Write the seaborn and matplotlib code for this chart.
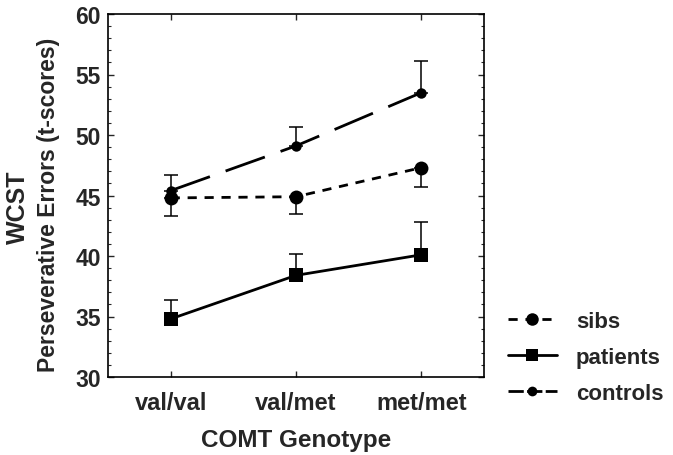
import matplotlib
matplotlib.use("Agg")
import matplotlib.pyplot as plt
from matplotlib.ticker import MultipleLocator
import seaborn as sns
import pandas as pd
import numpy as np

sns.set_theme(style="ticks")
plt.rcParams['font.family'] = ['Liberation Sans', 'DejaVu Sans']

genotypes = ["val/val", "val/met", "met/met"]
groups = ["sibs", "patients", "controls"]
sibs = [44.8, 44.9, 47.3]
sibs_err = [1.5, 1.4, 1.6]        # drawn downward
patients = [34.8, 38.4, 40.1]
patients_err = [1.6, 1.8, 2.7]    # drawn upward
controls = [45.4, 49.1, 53.5]
controls_err = [1.3, 1.6, 2.6]    # drawn upward

values = {"sibs": sibs, "patients": patients, "controls": controls}
errs = {"sibs": sibs_err, "patients": patients_err, "controls": controls_err}
err_dir = {"sibs": "down", "patients": "up", "controls": "up"}

df = pd.DataFrame({
    "genotype": np.tile(genotypes, len(groups)),
    "group": np.repeat(groups, len(genotypes)),
    "score": sibs + patients + controls,
})

fig = plt.figure(figsize=(6.73, 4.56), dpi=100)
ax = fig.add_axes([108 / 673, 1 - 378 / 456, (484 - 108) / 673, (378 - 15) / 456])

dashes = {"sibs": (3.3, 2.8), "patients": "", "controls": (15, 6)}
markers = {"sibs": "o", "patients": "s", "controls": "o"}
sns.lineplot(data=df, x="genotype", y="score", hue="group", style="group",
             hue_order=groups, style_order=groups,
             palette={g: "black" for g in groups}, dashes=dashes, markers=markers,
             linewidth=2.0, markeredgewidth=0, ax=ax, sort=False, legend=True)

sizes = {"sibs": 10, "patients": 9.5, "controls": 7.5}
for line, g in zip(ax.lines, groups):
    line.set_markersize(sizes[g])

xs = np.arange(len(genotypes))
for g in groups:
    e = np.array(errs[g])
    z = np.zeros_like(e)
    yerr = [e, z] if err_dir[g] == "down" else [z, e]
    ax.errorbar(xs, values[g], yerr=yerr, fmt="none", ecolor="black",
                elinewidth=1.1, capsize=4.8, capthick=1.1, zorder=1)

ax.set_xlim(-0.5, 2.5)
ax.set_ylim(30, 60)
ax.yaxis.set_major_locator(MultipleLocator(5))
ax.yaxis.set_minor_locator(MultipleLocator(1))
ax.tick_params(axis="both", which="both", direction="in", top=True, right=True)
ax.tick_params(axis="y", which="major", length=4, width=1, labelsize=16.5, pad=5)
ax.tick_params(axis="y", which="minor", length=2, width=0.8)
ax.tick_params(axis="x", which="major", length=4, width=1, labelsize=17, pad=10)
for lab in ax.get_xticklabels() + ax.get_yticklabels():
    lab.set_fontweight("bold")
for sp in ax.spines.values():
    sp.set_linewidth(1.2)
    sp.set_color("black")

ax.set_xlabel("COMT Genotype", fontsize=17.5, fontweight="bold", labelpad=10)
ax.set_ylabel("")
fig.text(49 / 673, 1 - 205 / 456, "Perseverative Errors (t-scores)", rotation=90,
         ha="center", va="center", fontsize=16.5, fontweight="bold")
fig.text(18 / 673, 1 - 207 / 456, "WCST", rotation=90, ha="center", va="center",
         fontsize=18, fontweight="bold")

handles, labels = ax.get_legend_handles_labels()
ax.get_legend().remove()
for h, g in zip(handles, labels):
    h.set_markersize({"sibs": 9, "patients": 9, "controls": 7}[g])
    if g == "controls":
        h.set_dashes((5.5, 1.2))
fig.legend(handles=handles, labels=labels, loc="center left",
           bbox_to_anchor=(508 / 673, 1 - 358.5 / 456), frameon=False,
           prop={"weight": "bold", "size": 16}, handlelength=2.2,
           labelspacing=0.68, handletextpad=0.85, borderpad=0, borderaxespad=0)

fig.savefig("out.png", dpi=100)
